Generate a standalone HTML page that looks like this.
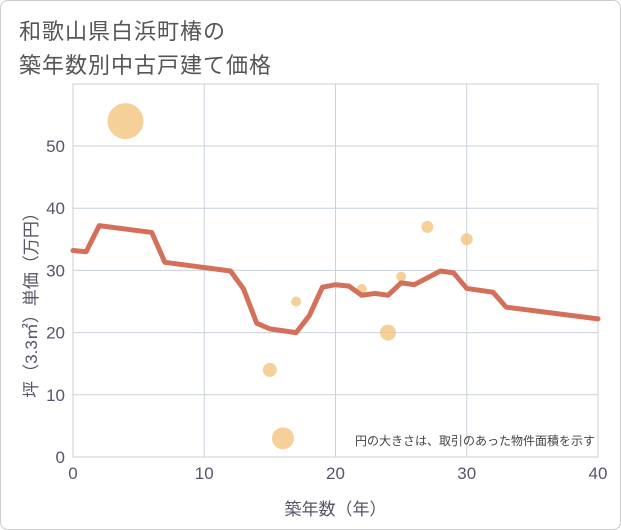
<!DOCTYPE html>
<html><head><meta charset="utf-8">
<style>
body{margin:0;background:#fff;}
#wrap{width:619px;height:528px;border:1px solid #ccc;border-radius:8px;position:relative;overflow:hidden;background:#fff;font-family:"Liberation Sans","Noto Sans CJK JP",sans-serif;}
.title{position:absolute;left:18px;top:14px;font-size:22px;line-height:34px;color:#555;letter-spacing:1px;}
</style></head><body>
<div id="wrap">
<div class="title">和歌山県白浜町椿の<br>築年数別中古戸建て価格</div>
<svg id="chart" width="621" height="530" style="position:absolute;left:0;top:0"></svg>
</div>
<script>
const xTicks=[0,10,20,30,40];
const yTicks=[0,10,20,30,40,50];
const lineX=[0,1,2,6,7,12,13,14,15,17,18,19,20,21,22,23,24,25,26,28,29,30,32,33,40];
const lineY=[33.2,33,37.2,36.1,31.3,29.9,27,21.5,20.6,20,22.7,27.3,27.7,27.5,26,26.3,26,28,27.7,29.9,29.6,27.1,26.5,24.1,22.2];
const bubX=[4,15,16,17,22,24,25,27,30];
const bubY=[54,14,3,25,27,20,29,37,35];
const bubR=[18,7,11,5,5,8,5,6,6];
const NS="http://www.w3.org/2000/svg";
const svg=document.getElementById('chart');
const X0=72,X1=597,Y0=456,Y1=83;
const sx=v=>X0+(v-0)/40*(X1-X0);
const sy=v=>Y0-v*(456-145)/50;
function mk(t,a){const e=document.createElementNS(NS,t);for(const k in a)e.setAttribute(k,a[k]);svg.appendChild(e);return e;}
let e=mk('rect',{x:X0,y:Y1,width:X1-X0,height:Y0-Y1,fill:'none',stroke:'#c8d0da'});


xTicks.forEach(t=>{
 let g=mk('line',{x1:sx(t),x2:sx(t),y1:Y1,y2:Y0,stroke:'#c8d0da'});
 
 
 let l=mk('text',{x:sx(t),y:478,'text-anchor':'middle','font-size':17,fill:'#556'});l.textContent=t;
 
 
});
yTicks.forEach(t=>{
 let g=mk('line',{x1:X0,x2:X1,y1:sy(t),y2:sy(t),stroke:'#c8d0da'});
 
 
 let l=mk('text',{x:64,y:sy(t)+6,'text-anchor':'end','font-size':17,fill:'#556'});l.textContent=t;
 
 
});
bubX.forEach((v,i)=>{
 let c=mk('circle',{cx:sx(v),cy:sy(bubY[i]),r:bubR[i],fill:'#f2c47e',opacity:0.8});
 
 
});
let p=mk('polyline',{points:lineX.map((v,i)=>sx(v)+','+sy(lineY[i])).join(' '),fill:'none',stroke:'#d4705a','stroke-width':5,'stroke-linejoin':'round','stroke-linecap':'round'});


let xt=mk('text',{x:(X0+X1)/2,y:514,'text-anchor':'middle','font-size':17,fill:'#556'});xt.textContent='築年数（年）';


let yt=mk('text',{x:0,y:0,'text-anchor':'middle','font-size':17,fill:'#556',transform:'translate(36,300) rotate(-90)'});yt.textContent='坪（3.3㎡）単価（万円）';


let n=mk('text',{x:594,y:444,'text-anchor':'end','font-size':12,fill:'#444'});n.textContent='円の大きさは、取引のあった物件面積を示す';


</script>
</body></html>
